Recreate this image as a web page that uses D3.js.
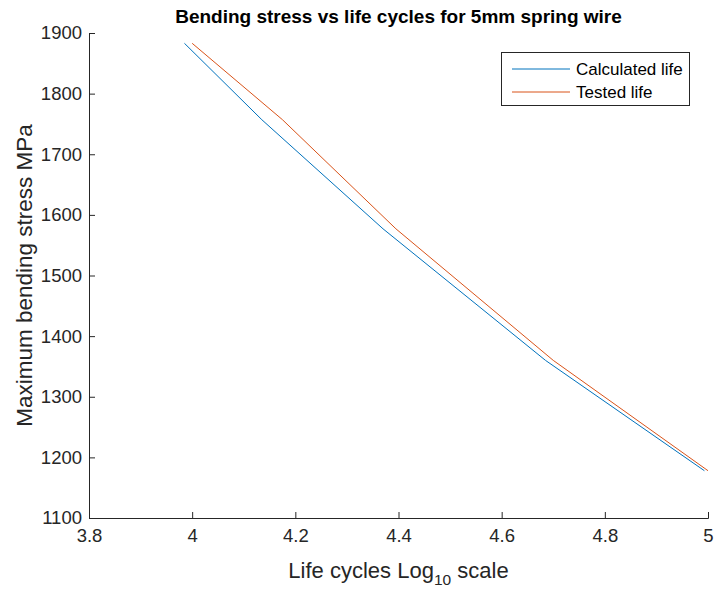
<!DOCTYPE html>
<html><head><meta charset="utf-8">
<script src="https://cdn.jsdelivr.net/npm/d3@7"></script>
<style>
body{margin:0;background:#fff;}
text{font-family:"Liberation Sans",Arial,Helvetica,sans-serif;}
</style></head>
<body><div id="chart"></div>
<script>
const seriesNames = ["Calculated life", "Tested life"];
const stress = [1883, 1757, 1577, 1360, 1178];
const calcLife = [3.985, 4.135, 4.37, 4.685, 4.993];
const testLife = [4.0, 4.175, 4.395, 4.70, 5.0];
const xTicks = [3.8, 4, 4.2, 4.4, 4.6, 4.8, 5];
const yTicks = [1100, 1200, 1300, 1400, 1500, 1600, 1700, 1800, 1900];
const colors = ["#0072BD", "#D95319"];

const W = 715, H = 590;
const m = {left: 89, right: 708, top: 33, bottom: 518};
const svg = d3.select("#chart").append("svg").attr("width", W).attr("height", H);
svg.append("rect").attr("width", W).attr("height", H).attr("fill", "#fff");

const x = d3.scaleLinear().domain([3.8, 5]).range([m.left, m.right]);
const y = d3.scaleLinear().domain([1100, 1900]).range([m.bottom, m.top]);

const axCol = "#262626";
const tickFont = 18.5;
const xAxis = svg.append("g").attr("transform", `translate(0,${m.bottom})`)
  .call(d3.axisBottom(x).tickValues(xTicks).tickSize(-6).tickPadding(11).tickFormat(d3.format("~g")));
const yAxis = svg.append("g").attr("transform", `translate(${m.left},0)`)
  .call(d3.axisLeft(y).tickValues(yTicks).tickSize(-6).tickPadding(7).tickFormat(d3.format("d")));
[xAxis, yAxis].forEach(g => {
  g.select(".domain").attr("stroke", axCol).attr("stroke-width", 1);
  g.selectAll(".tick line").attr("stroke", axCol);
  g.selectAll(".tick text").attr("fill", axCol).attr("font-size", tickFont)
    .attr("font-family", "'Liberation Sans',Arial,sans-serif");
});

const data = [calcLife, testLife];
const line = d3.line().x(d => x(d[0])).y(d => y(d[1]));
data.forEach((lv, i) => {
  svg.append("path").datum(lv.map((v, j) => [v, stress[j]]))
    .attr("fill", "none").attr("stroke", colors[i]).attr("stroke-width", 1).attr("d", line);
});

// Title
svg.append("text").attr("x", (m.left + m.right) / 2).attr("y", 23).attr("text-anchor", "middle")
  .attr("font-size", 19).attr("font-weight", "bold").attr("fill", "#000")
  .text("Bending stress vs life cycles for 5mm spring wire");

// X label
const xl = svg.append("text").attr("x", (m.left + m.right) / 2).attr("y", 578).attr("text-anchor", "middle")
  .attr("font-size", 22).attr("fill", axCol);
xl.append("tspan").text("Life cycles Log");
xl.append("tspan").attr("font-size", 15.5).attr("dy", 7).text("10");
xl.append("tspan").attr("dy", -7).text(" scale");

// Y label
svg.append("text").attr("transform", `translate(32,${(m.top + m.bottom) / 2}) rotate(-90)`)
  .attr("text-anchor", "middle").attr("font-size", 22.5).attr("fill", axCol)
  .text("Maximum bending stress MPa");

// Legend
const lg = svg.append("g");
lg.append("rect").attr("x", 501.5).attr("y", 52.5).attr("width", 188).attr("height", 53)
  .attr("fill", "#fff").attr("stroke", axCol).attr("stroke-width", 1);
seriesNames.forEach((n, i) => {
  const yy = 69 + i * 23;
  lg.append("line").attr("x1", 512).attr("x2", 570).attr("y1", yy).attr("y2", yy)
    .attr("stroke", colors[i]).attr("stroke-width", 1);
  lg.append("text").attr("x", 576).attr("y", yy + 6).attr("font-size", 17).attr("fill", "#000").text(n);
});
</script></body></html>
